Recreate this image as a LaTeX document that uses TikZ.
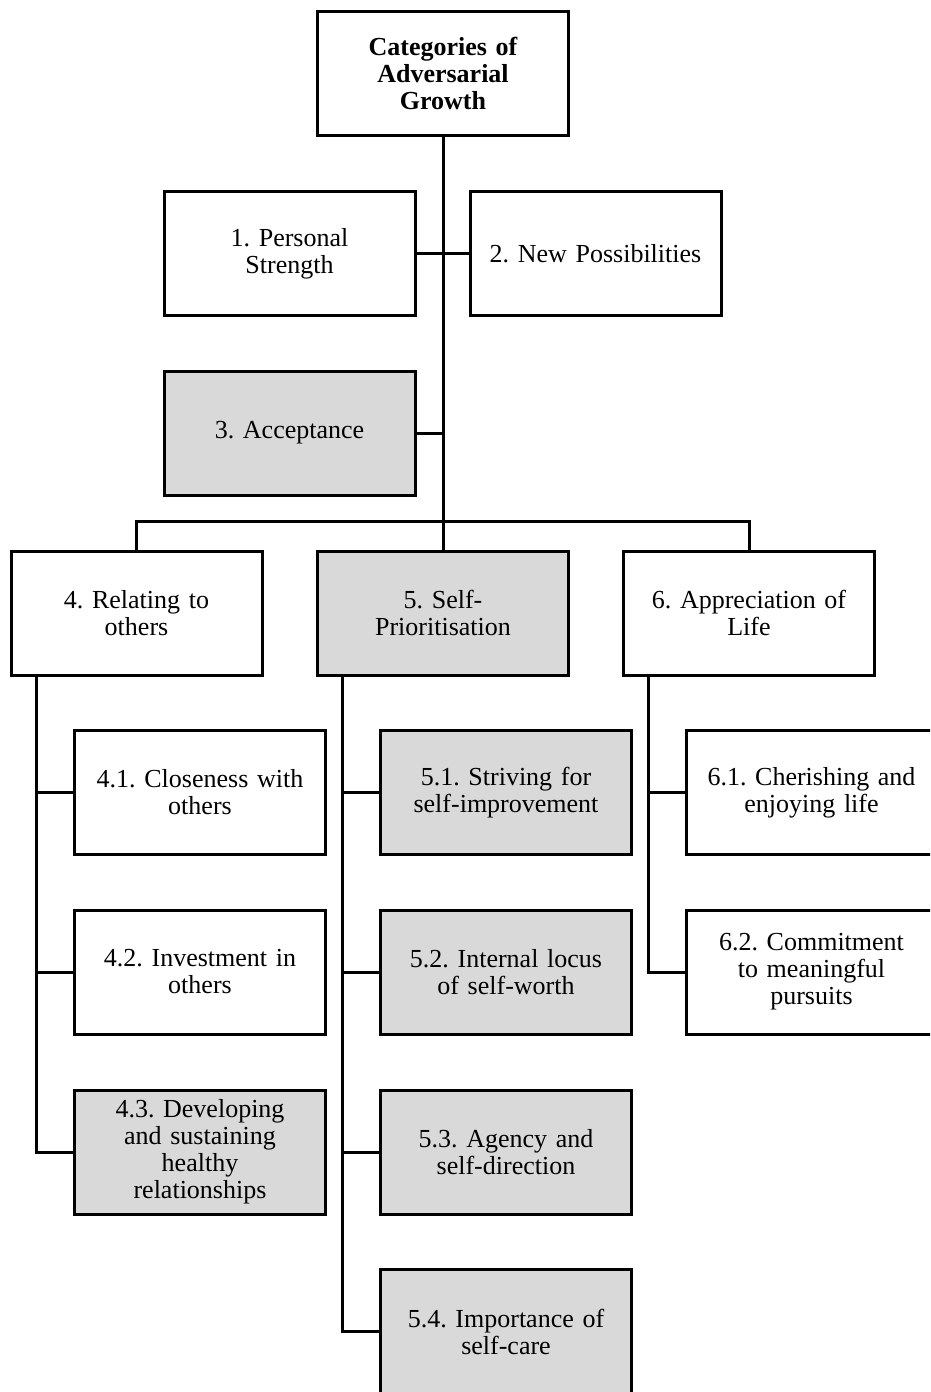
\documentclass[tikz,border=0pt]{standalone}
\usepackage{fontspec}
\setmainfont{Liberation Serif}
\begin{document}
\frenchspacing
\begin{tikzpicture}[x=1pt,y=-1pt,
  box/.style={draw=black,line width=3pt,minimum width=251pt,minimum height=124pt,inner sep=0pt,outer sep=0pt,align=center,font=\fontsize{26}{27}\selectfont,text width=240pt},
  grey/.style={box,fill=boxgrey}]
\definecolor{boxgrey}{HTML}{D9D9D9}
\useasboundingbox (0,0) rectangle (930,1392);
\clip (0,0) rectangle (930,1392);
\node[box,font=\bfseries\fontsize{26}{27}\selectfont] (top) at (443,73.5) {Categories of\\Adversarial\\Growth};
\node[box] (b1) at (289.5,253.5) {1. Personal\\Strength};
\node[box] (b2) at (595.5,253.5) {2. New Possibilities};
\node[grey] (b3) at (289.5,433) {3. Acceptance};
\node[box] (b4) at (136.5,613) {4. Relating to\\others};
\node[grey] (b5) at (443,613) {5. Self-\\Prioritisation};
\node[box] (b6) at (749,613) {6. Appreciation of\\Life};
\node[box] (c41) at (200,792.5) {4.1. Closeness with\\others};
\node[box] (c42) at (200,972) {4.2. Investment in\\others};
\node[grey] (c43) at (200,1152) {4.3. Developing\\and sustaining\\healthy\\relationships};
\node[grey] (c51) at (506,792.5) {5.1. Striving for\\self-improvement};
\node[grey] (c52) at (506,972) {5.2. Internal locus\\of self-worth};
\node[grey] (c53) at (506,1152) {5.3. Agency and\\self-direction};
\node[grey] (c54) at (506,1331.5) {5.4. Importance of\\self-care};
\node[box] (c61) at (811.5,792.5) {6.1. Cherishing and\\enjoying life};
\node[box] (c62) at (811.5,972) {6.2. Commitment\\to meaningful\\pursuits};
\coordinate (j) at (443,521);
\draw[line width=3pt] (top.south) -- (b5.north);
\draw[line width=3pt] (b1.east) -- (b2.west);
\draw[line width=3pt] (b3.east) -- (b3.east -| top.south);
\draw[line width=3pt] (b4.north) |- (j) -| (b6.north);
\coordinate (t4) at ([xshift=-100.5]b4.south);
\coordinate (t5) at ([xshift=-101]b5.south);
\coordinate (t6) at ([xshift=-101]b6.south);
\draw[line width=3pt] (t4) |- (c43.west);
\draw[line width=3pt] (t4 |- c41.west) -- (c41.west);
\draw[line width=3pt] (t4 |- c42.west) -- (c42.west);
\draw[line width=3pt] (t5) |- (c54.west);
\draw[line width=3pt] (t5 |- c51.west) -- (c51.west);
\draw[line width=3pt] (t5 |- c52.west) -- (c52.west);
\draw[line width=3pt] (t5 |- c53.west) -- (c53.west);
\draw[line width=3pt] (t6) |- (c62.west);
\draw[line width=3pt] (t6 |- c61.west) -- (c61.west);
\end{tikzpicture}
\end{document}
